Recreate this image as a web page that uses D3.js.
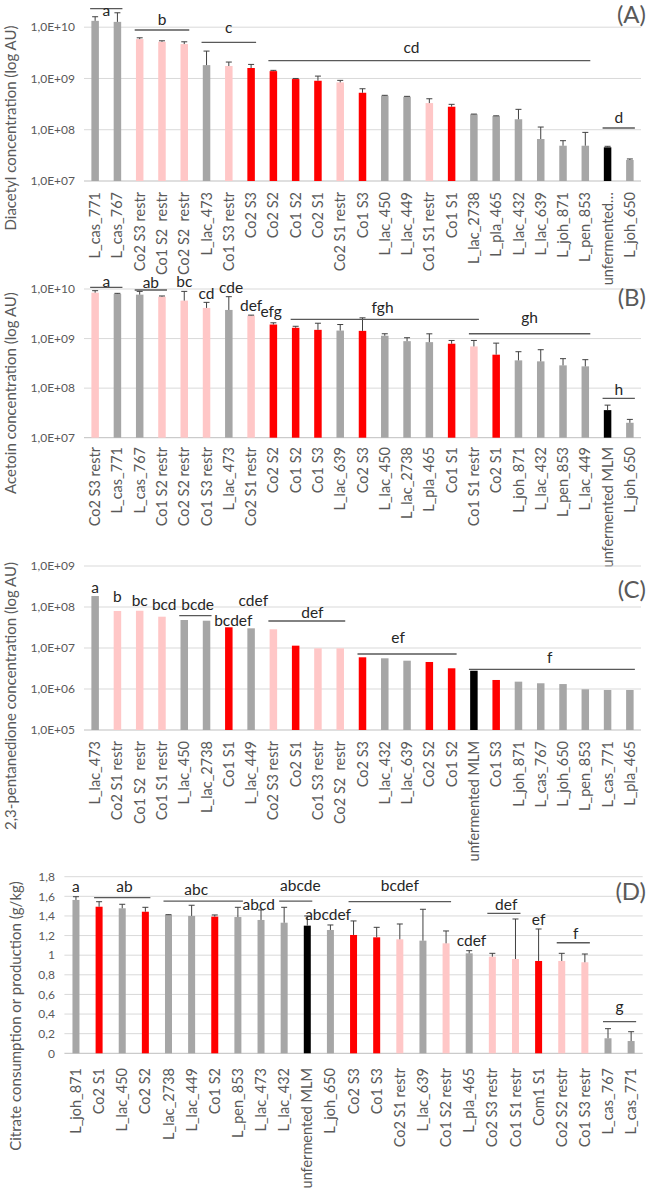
<!DOCTYPE html>
<html><head><meta charset="utf-8">
<script src="https://cdn.jsdelivr.net/npm/d3@7"></script>
<style>
body{margin:0;background:#fff;}
svg text{font-family:Lato,"Open Sans",sans-serif;}
</style></head><body>
<svg id="c" width="654" height="1200"></svg>
<script>
// ---------- DATA ----------
const catsA = ["L_cas_771","L_cas_767","Co2 S3 restr","Co1 S2  restr","Co2 S2  restr","L_lac_473","Co1 S3 restr","Co2 S3","Co2 S2","Co1 S2","Co2 S1","Co2 S1 restr","Co1 S3","L_lac_450","L_lac_449","Co1 S1 restr","Co1 S1","L_lac_2738","L_pla_465","L_lac_432","L_lac_639","L_joh_871","L_pen_853","unfermented…","L_joh_650"];
const valsA = [1.33e10,1.27e10,5.86e9,5.19e9,4.69e9,1.82e9,1.75e9,1.60e9,1.39e9,9.73e8,9.02e8,8.39e8,5.26e8,4.60e8,4.40e8,3.31e8,2.81e8,2.0e8,1.85e8,1.60e8,6.59e7,4.88e7,4.88e7,4.54e7,2.57e7];
const errA  = [2.7e9,6.4e9,3.5e8,2.4e8,5.0e8,1.6e9,3.4e8,2.8e8,5e7,2.7e7,2.1e8,7.9e7,1.04e8,9e6,8e6,7.1e7,3.2e7,2e6,2e6,9.0e7,4.7e7,1.23e7,4.0e7,2.1e6,1.2e6];

const catsB = ["Co2 S3 restr","L_cas_771","L_cas_767","Co1 S2 restr","Co2 S2 restr","Co1 S3 restr","L_lac_473","Co2 S1 restr","Co2 S2","Co1 S2","Co1 S3","L_lac_639","Co2 S3","L_lac_450","L_lac_2738","L_pla_465","Co1 S1","Co1 S1 restr","Co2 S1","L_joh_871","L_lac_432","L_pen_853","L_lac_449","unfermented MLM","L_joh_650"];
const valsB = [8.43e9,7.94e9,7.69e9,7.0e9,5.82e9,4.15e9,3.78e9,2.91e9,1.92e9,1.65e9,1.50e9,1.45e9,1.43e9,1.14e9,8.87e8,8.47e8,7.87e8,6.94e8,4.73e8,3.63e8,3.47e8,2.88e8,2.75e8,3.60e7,2.0e7];
const errB  = [8.2e8,2.3e8,1.26e9,2.3e8,3.13e9,1.23e9,3.22e9,6e7,1.6e8,1.2e8,5.4e8,4.7e8,1.19e9,1.1e8,1.53e8,4.0e8,1.29e8,2.22e8,3.36e8,1.8e8,2.49e8,1.05e8,1.0e8,9.4e6,3.4e6];

const catsC = ["L_lac_473","Co2 S1 restr","Co1 S2  restr","Co1 S1 restr","L_lac_450","L_lac_2738","Co1 S1","L_lac_449","Co2 S3 restr","Co2 S1","Co1 S3 restr","Co2 S2  restr","Co2 S3","L_lac_432","L_lac_639","Co2 S2","Co1 S2","unfermented MLM","Co1 S3","L_joh_871","L_cas_767","L_joh_650","L_pen_853","L_cas_771","L_pla_465"];
const valsC = [1.85e8,8.0e7,8.1e7,5.80e7,4.82e7,4.63e7,3.20e7,3.02e7,2.86e7,1.14e7,9.84e6,9.84e6,5.93e6,5.61e6,4.90e6,4.56e6,3.20e6,2.79e6,1.66e6,1.51e6,1.38e6,1.32e6,9.84e5,9.46e5,9.46e5];

const catsD = ["L_joh_871","Co2 S1","L_lac_450","Co2 S2","L_lac_2738","L_lac_449","Co1 S2","L_pen_853","L_lac_473","L_lac_432","unfermented MLM","L_joh_650","Co2 S3","Co1 S3","Co2 S1 restr","L_lac_639","Co1 S2 restr","L_pla_465","Co2 S3 restr","Co1 S1 restr","Com1 S1","Co2 S2 restr","Co1 S3 restr","L_cas_767","L_cas_771"];
const valsD = [1.563,1.494,1.478,1.443,1.410,1.400,1.393,1.389,1.359,1.331,1.301,1.257,1.206,1.182,1.162,1.148,1.121,1.019,0.985,0.961,0.941,0.941,0.928,0.153,0.125];
const errD  = [0.033,0.051,0.041,0.045,0.003,0.109,0.017,0.099,0.102,0.157,0.099,0.051,0.143,0.102,0.156,0.320,0.126,0.027,0.034,0.408,0.326,0.078,0.084,0.098,0.095];

const ticksA = [1e7,1e8,1e9,1e10], tickLabelsA = ["1,0E+07","1,0E+08","1,0E+09","1,0E+10"];
const ticksC = [1e5,1e6,1e7,1e8,1e9], tickLabelsC = ["1,0E+05","1,0E+06","1,0E+07","1,0E+08","1,0E+09"];
const ticksD = [0,0.2,0.4,0.6,0.8,1,1.2,1.4,1.6,1.8], tickLabelsD = ["0","0,2","0,4","0,6","0,8","1","1,2","1,4","1,6","1,8"];

// significance letters: text, text position (category index, value), optional bracket [from,to,value]
const lettersA = [
 {t:"a",i:0.5,v:1.69e10,br:[0,1,2.30e10]},
 {t:"b",i:3,v:1.10e10,br:[2,4,8.81e9]},
 {t:"c",i:6,v:7.7e9,br:[5,7,5.07e9]},
 {t:"cd",i:14.2,v:3.14e9,br:[8,22,2.22e9]},
 {t:"d",i:23.5,v:1.35e8,br:[23,24,1.08e8]}];
const lettersB = [
 {t:"a",i:0.5,v:1.12e10,br:[0,1,1.08e10]},
 {t:"ab",i:2.5,v:1.06e10,br:[2,3,9.54e9]},
 {t:"bc",i:4,v:1.10e10},
 {t:"cd",i:5,v:6.28e9},
 {t:"cde",i:6.1,v:8.30e9},
 {t:"def",i:7,v:3.68e9},
 {t:"efg",i:7.9,v:2.76e9},
 {t:"fgh",i:12.9,v:3.28e9,br:[9,17,2.43e9]},
 {t:"gh",i:19.5,v:2.06e9,br:[17,22,1.25e9]},
 {t:"h",i:23.5,v:7.27e7,br:[23,24,6.24e7]}];
const lettersC = [
 {t:"a",i:0,v:2.20e8},
 {t:"b",i:1,v:1.36e8},
 {t:"bc",i:2,v:1.06e8},
 {t:"bcd",i:3.1,v:8.22e7},
 {t:"bcde",i:4.6,v:8.22e7,br:[4,5,6.14e7]},
 {t:"bcdef",i:6.2,v:3.35e7},
 {t:"cdef",i:7.1,v:1.03e8},
 {t:"def",i:9.75,v:5.39e7,br:[8,11,4.56e7]},
 {t:"ef",i:13.6,v:1.36e7,br:[12,16,7.14e6]},
 {t:"f",i:20.4,v:4.31e6,br:[17,24,3.02e6]}];
const lettersD = [
 {t:"a",i:0,v:1.649},
 {t:"ab",i:2.1,v:1.649,br:[1,3,1.586]},
 {t:"abc",i:5.2,v:1.613,br:[4,7,1.552]},
 {t:"abcd",i:7.9,v:1.461,br:[9,10,1.552]},
 {t:"abcde",i:9.7,v:1.654},
 {t:"abcdef",i:10.9,v:1.354},
 {t:"bcdef",i:14,v:1.654,br:[12,16,1.545]},
 {t:"cdef",i:17.1,v:1.089},
 {t:"def",i:18.6,v:1.461,br:[18,19,1.427]},
 {t:"ef",i:20,v:1.308},
 {t:"f",i:21.6,v:1.160,br:[21,22,1.127]},
 {t:"g",i:23.5,v:0.421,br:[23,24,0.322]}];

// ---------- DRAW ----------
const svg = d3.select("#c");
const COL = {gray:"#A6A6A6", pink:"#FFC7C7", red:"#FF0000", black:"#000000"};
function colorOf(n){
  if(/restr/.test(n)) return COL.pink;
  if(/^unfermented/.test(n)) return COL.black;
  if(/^Co/.test(n)) return COL.red;
  return COL.gray;
}

function panel(o){
  const g = svg.append("g");
  const x = d3.scaleBand().domain(d3.range(o.cats.length)).range(o.xr).padding(0);
  const y = o.y;
  const cx = i => x.range()[0] + (i+0.5)*x.step();
  // gridlines
  g.selectAll("line.grid").data(o.ticks).join("line")
    .attr("x1",o.xr[0]).attr("x2",o.xr[1])
    .attr("y1",d=>y(d)).attr("y2",d=>y(d))
    .attr("stroke",(d,i)=>i===0?"#BFBFBF":"#D9D9D9").attr("stroke-width",1);
  // tick labels
  g.selectAll("text.tick").data(o.ticks).join("text")
    .attr("x",o.tickX).attr("y",d=>y(d)).attr("dy","0.35em")
    .attr("text-anchor","end").attr("font-size",12).attr("fill","#595959")
    .text((d,i)=>o.tickLabels[i]);
  // bars
  const y0 = y(o.ticks[0]);
  g.selectAll("rect").data(o.vals).join("rect")
    .attr("x",(d,i)=>cx(i)-o.bw/2).attr("width",o.bw)
    .attr("y",d=>y(d)).attr("height",d=>y0-y(d))
    .attr("fill",(d,i)=>colorOf(o.cats[i]));
  // error bars
  if(o.err){
    const eg = g.append("g").attr("stroke","#404040").attr("stroke-width",1);
    o.vals.forEach((v,i)=>{
      const yt = y(v+o.err[i]);
      eg.append("line").attr("x1",cx(i)).attr("x2",cx(i)).attr("y1",y(v)).attr("y2",yt);
      eg.append("line").attr("x1",cx(i)-3).attr("x2",cx(i)+3).attr("y1",yt).attr("y2",yt);
    });
  }
  // category labels
  g.selectAll("text.cat").data(o.cats).join("text")
    .attr("transform",(d,i)=>`translate(${cx(i)},${o.labelTop}) rotate(-90)`)
    .attr("dy","0.35em").attr("text-anchor","end")
    .attr("font-size",14.5).attr("fill","#595959")
    .attr("xml:space","preserve").style("white-space","pre")
    .text(d=>d);
  // axis title
  g.append("text")
    .attr("transform",`translate(${o.titleX},${o.titleY}) rotate(-90)`)
    .attr("text-anchor","middle").attr("dy","0.35em")
    .attr("font-size",15).attr("fill","#595959").text(o.title);
  // panel tag
  g.append("text").attr("x",646).attr("y",o.tagY).attr("dy","0.35em")
    .attr("text-anchor","end").attr("font-size",24).attr("fill","#595959").text(o.tag);
  // letters
  o.letters.forEach(L=>{
    if(L.br){
      g.append("line").attr("x1",cx(L.br[0])-5).attr("x2",cx(L.br[1])+5)
        .attr("y1",y(L.br[2])).attr("y2",y(L.br[2]))
        .attr("stroke","#595959").attr("stroke-width",1.3);
    }
    g.append("text").attr("x",cx(L.i)).attr("y",y(L.v))
      .attr("text-anchor","middle").attr("font-size",15.5).attr("fill","#262626").text(L.t);
  });
}

panel({cats:catsA, vals:valsA, err:errA, xr:[84,641],
  y:d3.scaleLog().domain([1e7,1e10]).range([181,27.2]),
  ticks:ticksA, tickLabels:tickLabelsA, tickX:75, bw:7.5, labelTop:192,
  title:"Diacetyl concentration (log AU)", titleX:11, titleY:128, tag:"(A)", tagY:15, letters:lettersA});
panel({cats:catsB, vals:valsB, err:errB, xr:[84,641],
  y:d3.scaleLog().domain([1e7,1e10]).range([437.7,289]),
  ticks:ticksA, tickLabels:tickLabelsA, tickX:75, bw:7.5, labelTop:447,
  title:"Acetoin concentration (log AU)", titleX:11, titleY:393, tag:"(B)", tagY:298, letters:lettersB});
panel({cats:catsC, vals:valsC, err:null, xr:[84,641],
  y:d3.scaleLog().domain([1e5,1e9]).range([730,566]),
  ticks:ticksC, tickLabels:tickLabelsC, tickX:75, bw:7.5, labelTop:741,
  title:"2,3-pentanedione concentration (log AU)", titleX:11, titleY:696, tag:"(C)", tagY:590, letters:lettersC});
panel({cats:catsD, vals:valsD, err:errD, xr:[64.4,642.7],
  y:d3.scaleLinear().domain([0,1.8]).range([1053.3,876.7]),
  ticks:ticksD, tickLabels:tickLabelsD, tickX:55, bw:7, labelTop:1068,
  title:"Citrate consumption or production (g/kg)", titleX:16, titleY:1016, tag:"(D)", tagY:892, letters:lettersD});
</script>
</body></html>
